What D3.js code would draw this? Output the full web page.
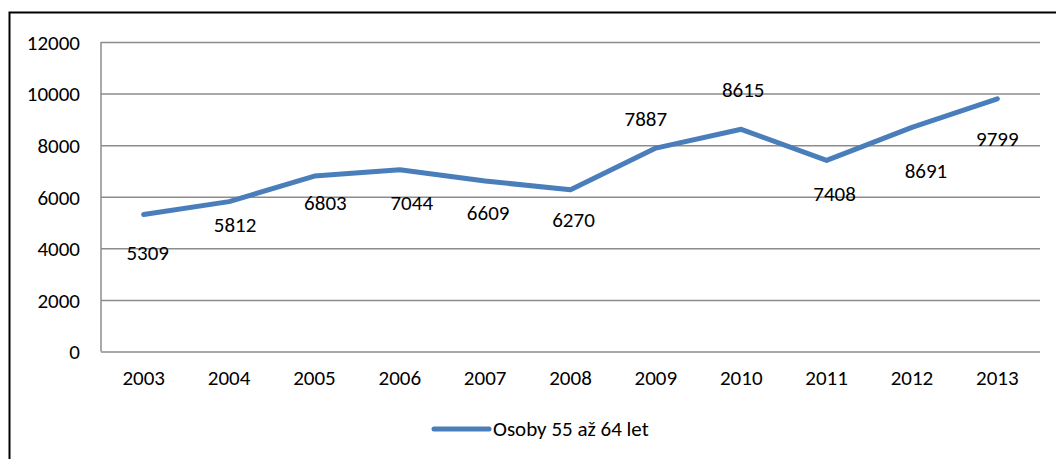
<!DOCTYPE html>
<html>
<head>
<meta charset="utf-8">
<script src="https://cdn.jsdelivr.net/npm/d3@7"></script>
<style>
  body { margin: 0; background: #fff; }
  svg text { font-family: Carlito, Calibri, Lato, sans-serif; font-size: 21px; fill: #000; }
</style>
</head>
<body>
<div id="chart"></div>
<script>
var years = ["2003", "2004", "2005", "2006", "2007", "2008", "2009", "2010", "2011", "2012", "2013"];
var persons = [5309, 5812, 6803, 7044, 6609, 6270, 7887, 8615, 7408, 8691, 9799];
var yTicks = [0, 2000, 4000, 6000, 8000, 10000, 12000];
var seriesName = "Osoby 55 až 64 let";

// label nudges, as the labels sit in the original
var labelDx = [4, 6, 11, 12, 3, 3, -10, 2, 8, 14, 0];
var labelDy = [45, 30, 34, 40, 39, 37, -22, -32, 41, 51, 47];

var width = 1056, height = 459;
var margin = {top: 42, right: 16, bottom: 107, left: 101};

var svg = d3.select("#chart")
        .append("svg")
        .attr("width", width)
        .attr("height", height);

// outer frame
svg.append("rect")
        .attr("x", 9.5)
        .attr("y", 12.5)
        .attr("width", width + 20)
        .attr("height", height + 20)
        .attr("fill", "none")
        .attr("stroke", "#000")
        .attr("stroke-width", 2);

var x = d3.scaleBand()
        .domain(years)
        .range([margin.left, width - margin.right]);

var y = d3.scaleLinear()
        .domain([0, 12000])
        .range([height - margin.bottom - 0.5, margin.top]);

var grid = svg.append("g")
        .attr("transform", "translate(" + margin.left + ",0)")
        .call(d3.axisLeft(y)
                .tickValues(yTicks)
                .tickSize(-(width - margin.left - margin.right))
                .tickPadding(21)
                .tickFormat(d3.format("d")));
grid.select(".domain").remove();
grid.selectAll("line").attr("stroke", "#8c8c8c").attr("stroke-width", 1.5);
grid.selectAll("text").attr("dy", "0.35em");

svg.append("line")
        .attr("x1", margin.left)
        .attr("x2", margin.left)
        .attr("y1", y(12000))
        .attr("y2", y(0))
        .attr("stroke", "#8c8c8c")
        .attr("stroke-width", 1.5);

var xAxis = svg.append("g")
        .attr("transform", "translate(0," + y(0) + ")")
        .call(d3.axisBottom(x).tickSize(0).tickPadding(19));
xAxis.select(".domain").remove();
xAxis.selectAll("text").attr("dy", "0.71em");

var line = d3.line()
        .x(function (d, i) { return x(years[i]) + x.bandwidth() / 2; })
        .y(function (d) { return y(d); });

svg.append("path")
        .datum(persons)
        .attr("d", line)
        .attr("fill", "none")
        .attr("stroke", "#4a7ebb")
        .attr("stroke-width", 5)
        .attr("stroke-linecap", "round")
        .attr("stroke-linejoin", "round");

svg.append("g")
        .selectAll("text")
        .data(persons)
        .enter()
        .append("text")
        .attr("text-anchor", "middle")
        .attr("x", function (d, i) { return x(years[i]) + x.bandwidth() / 2 + labelDx[i]; })
        .attr("y", function (d, i) { return y(d) + labelDy[i]; })
        .text(function (d) { return d; });

// legend
var legend = svg.append("g").attr("transform", "translate(434,429)");
legend.append("line")
        .attr("x1", 0)
        .attr("x2", 55)
        .attr("stroke", "#4a7ebb")
        .attr("stroke-width", 5)
        .attr("stroke-linecap", "round");
legend.append("text")
        .attr("x", 59)
        .attr("dy", "0.35em")
        .text(seriesName);
</script>
</body>
</html>
